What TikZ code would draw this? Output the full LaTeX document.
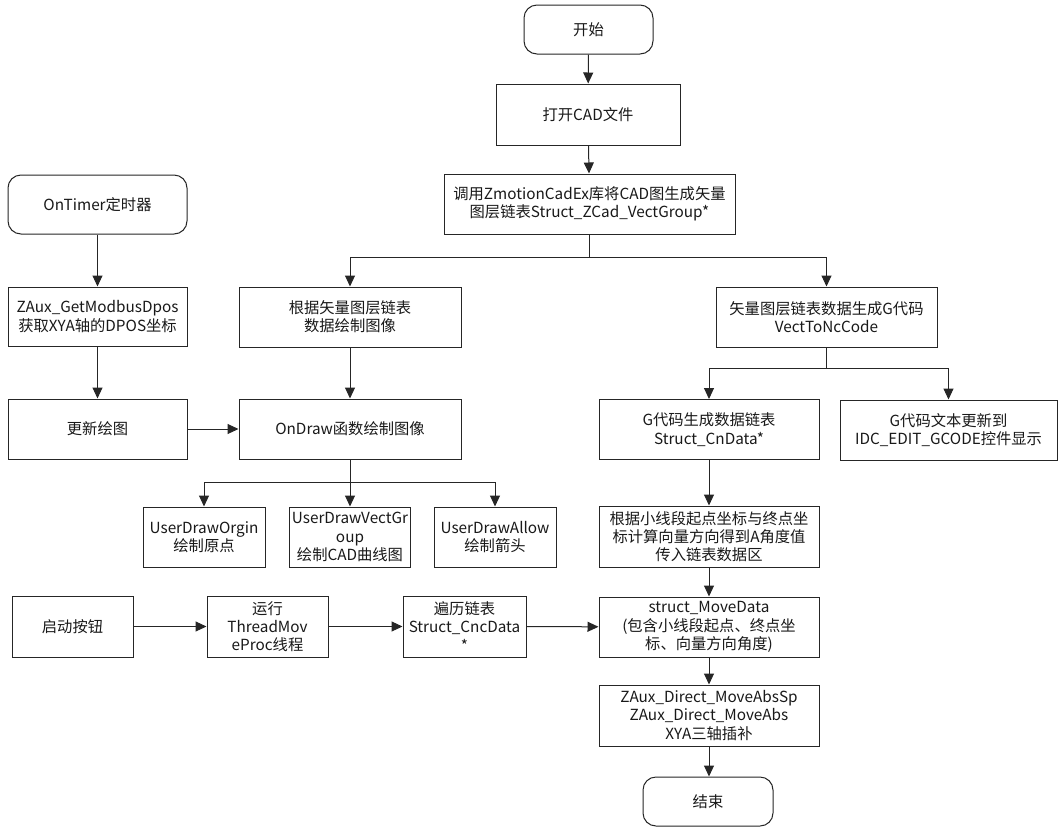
\documentclass[tikz,border=0pt]{standalone}
\usepackage{fontspec}
\setmainfont{Noto Sans CJK SC}
\usetikzlibrary{arrows.meta}
\tikzset{
  box/.style={draw=black!85, line width=1pt, fill=white, align=center, inner sep=2pt,
    font=\fontsize{15.3pt}{18.3pt}\selectfont, text=black!90},
  term/.style={box, rounded corners=13pt},
  arr/.style={line width=1pt, draw=black!85, -{Triangle[length=11pt,width=10pt]}},
  ln/.style={line width=1pt, draw=black!85}
}
\begin{document}
\begin{tikzpicture}[x=1pt,y=-1pt]
\useasboundingbox (0,0) rectangle (1063,836);
% main column
\node[term, minimum width=129pt, minimum height=49pt] (start) at (588.5,29.5) {开始};
\node[box, minimum width=184pt, minimum height=61pt] (open) at (588,114.5) {打开CAD文件};
\node[box, minimum width=291pt, minimum height=60pt] (call) at (589.5,204) {调用ZmotionCadEx库将CAD图生成矢量\\图层链表Struct\_ZCad\_VectGroup*};
% left column
\node[term, minimum width=179pt, minimum height=59pt] (timer) at (97.5,204.5) {OnTimer定时器};
\node[box, minimum width=179pt, minimum height=59pt] (getpos) at (97.5,316.5) {ZAux\_GetModbusDpos\\获取XYA轴的DPOS坐标};
\node[box, minimum width=179pt, minimum height=60pt] (update) at (97.5,429) {更新绘图};
% drawing branch
\node[box, minimum width=222pt, minimum height=60pt] (draw1) at (350,317) {根据矢量图层链表\\数据绘制图像};
\node[box, minimum width=222pt, minimum height=60pt] (ondraw) at (350,429) {OnDraw函数绘制图像};
\node[box, minimum width=122pt, minimum height=60pt] (u1) at (204,537) {UserDrawOrgin\\绘制原点};
\node[box, minimum width=121pt, minimum height=60pt] (u2) at (350,537) {UserDrawVectGr\\oup\\绘制CAD曲线图};
\node[box, minimum width=122pt, minimum height=60pt] (u3) at (495,537) {UserDrawAllow\\绘制箭头};
% G code branch
\node[box, minimum width=221pt, minimum height=60pt] (vect) at (826.5,317) {矢量图层链表数据生成G代码\\VectToNcCode};
\node[box, minimum width=220pt, minimum height=60pt] (gcn) at (709,429.5) {G代码生成数据链表\\Struct\_CnData*};
\node[box, minimum width=217pt, minimum height=60pt] (gtext) at (948.5,430) {G代码文本更新到\\IDC\_EDIT\_GCODE控件显示};
\node[box, minimum width=220pt, minimum height=61pt] (calc) at (709,536.5) {根据小线段起点坐标与终点坐\\标计算向量方向得到A角度值\\传入链表数据区};
\node[box, minimum width=220pt, minimum height=60pt] (move) at (709,627) {struct\_MoveData\\(包含小线段起点、终点坐\\标、向量方向角度)};
\node[box, minimum width=220pt, minimum height=61pt] (zaux) at (709,715.5) {ZAux\_Direct\_MoveAbsSp\\ZAux\_Direct\_MoveAbs\\XYA三轴插补};
\node[term, minimum width=130pt, minimum height=49pt] (end) at (708,801.5) {结束};
% bottom row
\node[box, minimum width=121pt, minimum height=61pt] (btn) at (72.5,626.5) {启动按钮};
\node[box, minimum width=121pt, minimum height=61pt] (thread) at (267.5,626.5) {运行\\ThreadMov\\eProc线程};
\node[box, minimum width=123pt, minimum height=61pt] (trav) at (464.5,626.5) {遍历链表\\Struct\_CncData\\*};
% branch points
\coordinate (br1) at (589.5,257);
\coordinate (br2) at (350,482);
\coordinate (br3) at (826.5,368);
% connectors
\draw[arr] (start) -- (open);
\draw[arr] (open) -- (call);
\draw[ln] (call.south) -- (br1);
\draw[arr] (br1) -| (draw1.north);
\draw[arr] (br1) -| (vect.north);
\draw[arr] (timer) -- (getpos);
\draw[arr] (getpos) -- (update);
\draw[arr] (update) -- (ondraw);
\draw[arr] (draw1) -- (ondraw);
\draw[ln] (ondraw.south) -- (br2);
\draw[arr] (br2) -| (u1.north);
\draw[arr] (br2) -- (u2.north);
\draw[arr] (br2) -| (u3.north);
\draw[ln] (vect.south) -- (br3);
\draw[arr] (br3) -| (gcn.north);
\draw[arr] (br3) -| (gtext.north);
\draw[arr] (gcn) -- (calc);
\draw[arr] (calc) -- (move);
\draw[arr] (move) -- (zaux);
\draw[arr] (zaux.south) -- (zaux.south |- end.north);
\draw[arr] (btn) -- (thread);
\draw[arr] (thread) -- (trav);
\draw[arr] (trav) -- (move);
\end{tikzpicture}
\end{document}
